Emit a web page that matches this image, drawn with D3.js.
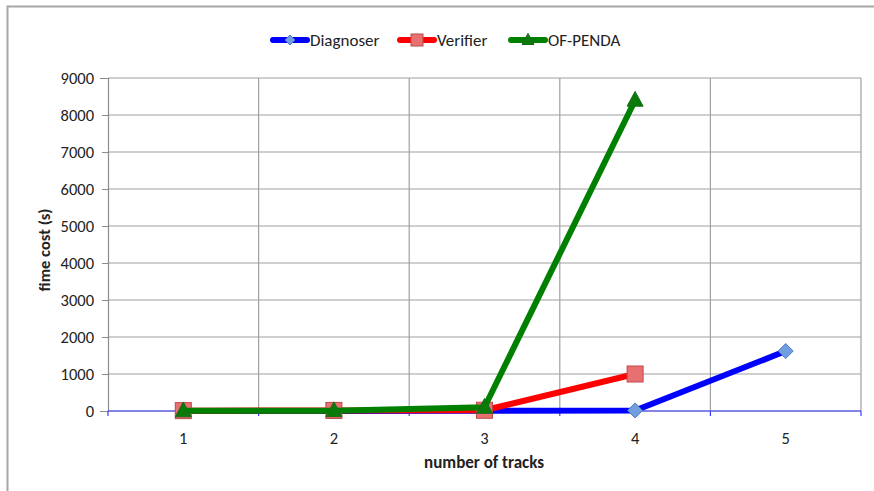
<!DOCTYPE html>
<html><head><meta charset="utf-8">
<script src="https://cdn.jsdelivr.net/npm/d3@7"></script>
<style>body{margin:0;background:#fff;} svg{display:block;}</style>
</head><body>
<script>
const categories = ["1","2","3","4","5"];
const yTicks = [0,1000,2000,3000,4000,5000,6000,7000,8000,9000];
const diagnoser = [1, 2, 5, 15, 1620];
const verifier = [10, 15, 20, 1000, null];
const ofpenda = [5, 10, 100, 8400, null];
const seriesNames = ["Diagnoser","Verifier","OF-PENDA"];

(function(){
const W = 874, H = 491;
const svg = d3.select("body").append("svg").attr("width", W).attr("height", H);
const font = "Calibri, Carlito, 'Liberation Sans', 'Open Sans', sans-serif";

// outer frame
svg.append("path").attr("d", `M7.5,${H} L7.5,6.5 L${W},6.5`).attr("fill","none").attr("stroke","#a6a6a6").attr("stroke-width",2);

const pL = 108, pR = 861, pT = 78, pB = 411;
const x = d3.scaleBand().domain(categories).range([pL, pR]);
const y = d3.scaleLinear().domain([0, 9000]).range([pB, pT]);

// horizontal grid
svg.append("g").selectAll("line").data(yTicks).join("line")
  .attr("x1", pL).attr("x2", pR).attr("y1", d => y(d)).attr("y2", d => y(d))
  .attr("stroke", "#a0a0a0").attr("stroke-width", 1.2);
// vertical grid (category boundaries)
const bounds = categories.map(c => x(c)).concat([pR]);
svg.append("g").selectAll("line").data(bounds.slice(1)).join("line")
  .attr("x1", d => d).attr("x2", d => d).attr("y1", pT).attr("y2", pB)
  .attr("stroke", "#a0a0a0").attr("stroke-width", 1.2);

// y axis
const yAxis = d3.axisLeft(y).tickValues(yTicks).tickSize(8).tickPadding(6).tickFormat(d3.format("d"));
const gy = svg.append("g").attr("transform", `translate(${pL},0)`).call(yAxis);
gy.select(".domain").attr("stroke", "#8c8c8c").attr("stroke-width", 1.2);
gy.selectAll(".tick line").attr("stroke", "#8c8c8c").attr("x1", -6).attr("x2", 0);
gy.selectAll("text").attr("font-family", font).attr("font-size", 16.5).attr("fill", "#222").attr("dy", "0.34em");

// x axis (blue line)
svg.append("line").attr("x1", pL).attr("x2", pR).attr("y1", pB).attr("y2", pB)
  .attr("stroke", "#3b3bff").attr("stroke-width", 1.2);
svg.append("g").selectAll("line").data(bounds).join("line")
  .attr("x1", d => d).attr("x2", d => d).attr("y1", pB).attr("y2", pB + 5)
  .attr("stroke", "#3b3bff").attr("stroke-width", 1.2);
svg.append("g").selectAll("text").data(categories).join("text")
  .attr("x", d => x(d) + x.bandwidth()/2).attr("y", pB + 33)
  .attr("text-anchor", "middle").attr("font-family", font).attr("font-size", 16.5).attr("fill", "#222")
  .text(d => d);

// axis titles
svg.append("text").attr("x", 484).attr("y", 468).attr("text-anchor","middle")
  .attr("font-family", font).attr("font-size", 17).attr("font-weight","bold").attr("fill","#222")
  .text("number of tracks");
svg.append("text").attr("transform", `translate(50,250) rotate(-90)`).attr("text-anchor","middle")
  .attr("font-family", font).attr("font-size", 16.5).attr("font-weight","bold").attr("fill","#222")
  .text("fime cost (s)");

const cx = c => x(c) + x.bandwidth()/2;
const line = d3.line().defined(d => d.v != null).x(d => cx(d.c)).y(d => y(d.v));
const seriesData = [
  {name: seriesNames[0], vals: diagnoser, color: "#0000ff", marker: "diamond", fill: "#6f9fe0", mstroke: "#4a78c0"},
  {name: seriesNames[1], vals: verifier, color: "#ff0000", marker: "square", fill: "#e87070", mstroke: "#c04848"},
  {name: seriesNames[2], vals: ofpenda, color: "#008000", marker: "triangle", fill: "#0a7a0a", mstroke: "#1a6a1a"}
];

function drawMarker(g, type, px, py, s) {
  if (type === "diamond") {
    g.append("path").attr("d", `M${px},${py-s} L${px+s},${py} L${px},${py+s} L${px-s},${py} Z`);
  } else if (type === "square") {
    g.append("rect").attr("x", px-s).attr("y", py-s).attr("width", 2*s).attr("height", 2*s);
  } else {
    g.append("path").attr("d", `M${px},${py-s*1.1} L${px+s},${py+s*0.75} L${px-s},${py+s*0.75} Z`);
  }
}

seriesData.forEach(s => {
  const pts = categories.map((c,i) => ({c, v: s.vals[i]}));
  svg.append("path").datum(pts).attr("d", line).attr("fill","none")
    .attr("stroke", s.color).attr("stroke-width", 6).attr("stroke-linejoin","round");
  const g = svg.append("g").attr("fill", s.fill).attr("stroke", s.mstroke).attr("stroke-width", 1);
  pts.filter(d => d.v != null).forEach(d => {
    drawMarker(g, s.marker, cx(d.c), y(d.v), s.marker === "triangle" ? 8 : (s.marker === "square" ? 8 : 7.5));
  });
});

// legend
const legX = [271, 398, 509];
const leg = svg.append("g");
seriesData.forEach((s,i) => {
  const lx = legX[i], ly = 40;
  leg.append("line").attr("x1", lx + 2).attr("x2", lx + 36).attr("y1", ly).attr("y2", ly)
    .attr("stroke", s.color).attr("stroke-width", 6).attr("stroke-linecap","round");
  const g = leg.append("g").attr("fill", s.fill).attr("stroke", s.mstroke).attr("stroke-width", 1);
  drawMarker(g, s.marker, lx + 19, ly, s.marker === "diamond" ? 5 : 6);
  leg.append("text").attr("x", lx + 39).attr("y", ly + 6).attr("font-family", font).attr("font-size", 17)
    .attr("fill", "#222").text(s.name);
});
})();
</script>
</body></html>
